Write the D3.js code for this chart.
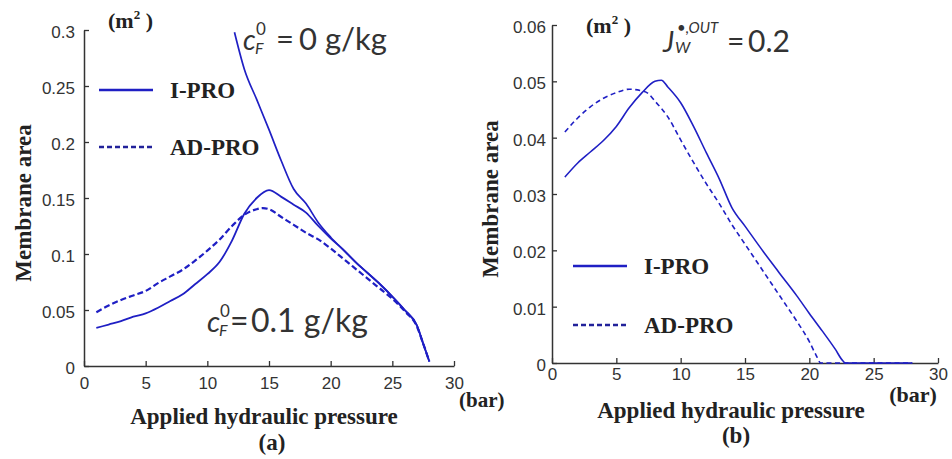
<!DOCTYPE html>
<html><head><meta charset="utf-8">
<script src="https://cdn.jsdelivr.net/npm/d3@7"></script>
<style>
html,body{margin:0;padding:0;background:#fff;}
svg{display:block;}
.tick text{font-family:"Liberation Sans",Arial,sans-serif;font-size:17px;fill:#333;}
.bold{font-family:"Liberation Serif","Times New Roman",serif;font-weight:bold;fill:#222;}
.ann{font-family:Lato,"Open Sans",sans-serif;fill:#333;}
</style></head>
<body>
<svg id="chart" width="952" height="459"></svg>
<script>
// ---------- Data ----------
const xTicks = [0, 5, 10, 15, 20, 25, 30];
const yTicksA = [0, 0.05, 0.1, 0.15, 0.2, 0.25, 0.3];
const yTicksB = [0, 0.01, 0.02, 0.03, 0.04, 0.05, 0.06];
const yLabelsA = ["0", "0.05", "0.1", "0.15", "0.2", "0.25", "0.3"];
const yLabelsB = ["0", "0.01", "0.02", "0.03", "0.04", "0.05", "0.06"];

// Panel (a): c_F^0 = 0.1 g/kg
const aIPRO_p = [1, 2, 3, 4, 5, 6, 7, 8, 9, 10, 11, 12, 13, 14, 15, 16, 17, 18, 19, 20, 21, 22, 23, 24, 25, 26, 27, 27.5, 28];
const aIPRO_v = [0.034, 0.037, 0.040, 0.044, 0.047, 0.052, 0.058, 0.064, 0.073, 0.082, 0.093, 0.112, 0.136, 0.150, 0.157, 0.151, 0.144, 0.137, 0.125, 0.114, 0.104, 0.093, 0.083, 0.073, 0.062, 0.050, 0.036, 0.020, 0.004];
const aADPRO_p = [1, 2, 3, 4, 5, 6, 7, 8, 9, 10, 11, 12, 13, 14, 14.5, 15, 16, 17, 18, 19, 20, 21, 22, 23, 24, 25, 26, 27, 27.5, 28];
const aADPRO_v = [0.048, 0.054, 0.059, 0.063, 0.067, 0.074, 0.080, 0.086, 0.094, 0.103, 0.113, 0.125, 0.135, 0.140, 0.141, 0.140, 0.133, 0.126, 0.119, 0.113, 0.105, 0.096, 0.087, 0.078, 0.069, 0.060, 0.049, 0.035, 0.020, 0.004];
// Panel (a): c_F^0 = 0 g/kg (I-PRO)
const aZero_p = [12.2, 13, 14, 15, 16, 17, 18, 19, 20, 21, 22, 23, 24, 25, 26, 27, 27.5, 28];
const aZero_v = [0.298, 0.265, 0.238, 0.211, 0.183, 0.158, 0.145, 0.128, 0.115, 0.104, 0.093, 0.083, 0.073, 0.062, 0.050, 0.036, 0.020, 0.004];

// Panel (b): J_W = 0.2
const bIPRO_p = [1, 2, 3, 4, 5, 6, 7, 8, 8.5, 9, 10, 11, 12, 13, 14, 15, 16, 17, 18, 19, 20, 21, 22, 22.6, 22.8, 28];
const bIPRO_v = [0.033, 0.0355, 0.0375, 0.0395, 0.042, 0.0453, 0.048, 0.050, 0.0502, 0.049, 0.0462, 0.042, 0.0373, 0.0327, 0.0275, 0.0243, 0.0211, 0.018, 0.015, 0.012, 0.0088, 0.0057, 0.0025, 0.0004, 0, 0];
const bADPRO_p = [1, 2, 3, 4, 5, 6, 7, 7.5, 8, 9, 10, 11, 12, 13, 14, 15, 16, 17, 18, 19, 20, 20.5, 20.9, 28];
const bADPRO_v = [0.041, 0.0435, 0.0455, 0.047, 0.048, 0.0486, 0.0483, 0.0478, 0.0465, 0.0437, 0.0396, 0.0356, 0.0318, 0.0283, 0.0245, 0.0211, 0.0177, 0.0143, 0.0109, 0.0075, 0.0038, 0.0015, 0, 0];

// ---------- Drawing ----------
const svg = d3.select("#chart");
svg.append("rect").attr("width", 952).attr("height", 459).attr("fill", "#fff");
const blue = "#1f1fc4";

function panel(cfg) {
  const x = d3.scaleLinear().domain([0, 30]).range([cfg.x0, cfg.x1]);
  const y = d3.scaleLinear().domain([0, cfg.ymax]).range([cfg.y0, cfg.y1]);
  const g = svg.append("g");
  const xa = g.append("g").attr("transform", `translate(0,${cfg.y0})`)
    .call(d3.axisBottom(x).tickValues(xTicks).tickSizeInner(-5).tickSizeOuter(0).tickPadding(cfg.xpad));
  const ya = g.append("g").attr("transform", `translate(${cfg.x0},0)`)
    .call(d3.axisLeft(y).tickValues(cfg.yTicks).tickFormat((d, i) => cfg.yLabels[i]).tickSizeInner(-5).tickSizeOuter(0).tickPadding(cfg.ypad));
  [xa, ya].forEach(a => { a.select(".domain").attr("stroke", "#333").attr("stroke-width", 1.5); a.selectAll(".tick line").attr("stroke", "#333").attr("stroke-width", 1.3); });
  ya.selectAll(".tick text").attr("dy", "0.45em");
  const line = d3.line().x(d => x(d[0])).y(d => y(d[1])).curve(d3.curveMonotoneX);
  cfg.series.forEach(s => {
    g.append("path").datum(d3.zip(s.p, s.v)).attr("d", line)
      .attr("fill", "none").attr("stroke", blue).attr("stroke-width", s.w)
      .attr("stroke-dasharray", s.dash || null).attr("stroke-linejoin", "round");
  });
  return {x, y, g};
}

const A = panel({x0: 84, x1: 454, y0: 366, y1: 30, ymax: 0.3, yTicks: yTicksA, yLabels: yLabelsA, xpad: 11, ypad: 9,
  series: [
    {p: aADPRO_p, v: aADPRO_v, w: 2.2, dash: "6,3"},
    {p: aIPRO_p, v: aIPRO_v, w: 1.8},
    {p: aZero_p, v: aZero_v, w: 1.7}
  ]});
const B = panel({x0: 552, x1: 938, y0: 363, y1: 25, ymax: 0.06, yTicks: yTicksB, yLabels: yLabelsB, xpad: 5, ypad: 6,
  series: [
    {p: bADPRO_p, v: bADPRO_v, w: 1.6, dash: "5,3.5"},
    {p: bIPRO_p, v: bIPRO_v, w: 1.6}
  ]});

function txt(x, y, s, cls, size, opts = {}) {
  const t = svg.append("text").attr("x", x).attr("y", y).attr("class", cls).attr("font-size", size).text(s);
  if (opts.anchor) t.attr("text-anchor", opts.anchor);
  if (opts.rotate) t.attr("transform", `rotate(-90,${x},${y})`);
  if (opts.italic) t.attr("font-style", "italic");
  if (opts.baseline) t.attr("dominant-baseline", opts.baseline);
  return t;
}

// Axis titles
txt(23, 203, "Membrane area", "bold", 23, {anchor: "middle", rotate: true, baseline: "central"});
txt(490, 199, "Membrane area", "bold", 23, {anchor: "middle", rotate: true, baseline: "central"});
function m2(x, y) {
  const t = svg.append("text").attr("x", x).attr("y", y).attr("class", "bold").attr("font-size", 22);
  t.append("tspan").text("(m");
  t.append("tspan").attr("font-size", 13).attr("dy", -9).text("2");
  t.append("tspan").attr("dy", 9).text(" )");
}
m2(108, 28); m2(586, 33);
txt(264, 424, "Applied hydraulic pressure", "bold", 23, {anchor: "middle"});
txt(272, 450, "(a)", "bold", 23, {anchor: "middle"});
txt(459, 407, "(bar)", "bold", 21);
txt(731, 418, "Applied hydraulic pressure", "bold", 23, {anchor: "middle"});
txt(736, 443, "(b)", "bold", 23, {anchor: "middle"});
txt(913, 402, "(bar)", "bold", 22, {anchor: "middle"});

// Legends
function legend(x, y1, y2, size) {
  svg.append("line").attr("x1", x).attr("x2", x + 54).attr("y1", y1).attr("y2", y1).attr("stroke", blue).attr("stroke-width", 2.5);
  svg.append("line").attr("x1", x).attr("x2", x + 54).attr("y1", y2).attr("y2", y2).attr("stroke", "#22229a").attr("stroke-width", 2.5).attr("stroke-dasharray", "5,3");
  txt(x + 71, y1, "I-PRO", "bold", size, {baseline: "central"});
  txt(x + 71, y2, "AD-PRO", "bold", size, {baseline: "central"});
}
legend(99, 90, 147, 23);
legend(573, 266, 325, 23);

// Annotations: c_F^0 = ...
function cf(x, y, size, eqDx, valDx, rest) {
  txt(x, y, "c", "ann", size - 3, {italic: true});
  txt(x + 13, y - 15, "0", "ann", 17);
  txt(x + 12, y + 4, "F", "ann", 16, {italic: true});
  txt(x + eqDx, y, "=", "ann", size);
  txt(x + valDx, y, rest, "ann", size);
}
cf(243, 50, 31, 33, 56, "0 g/kg");
cf(207, 332, 32, 23, 44, "0.1 g/kg");
// J_W^{•,OUT} = 0.2
txt(663, 52, "J", "ann", 28, {italic: true});
txt(677, 33, "•,OUT", "ann", 15, {italic: true});
txt(675, 53, "W", "ann", 16, {italic: true});
txt(727, 52, "=", "ann", 30);
txt(748, 52, "0.2", "ann", 30);
</script>
</body></html>
